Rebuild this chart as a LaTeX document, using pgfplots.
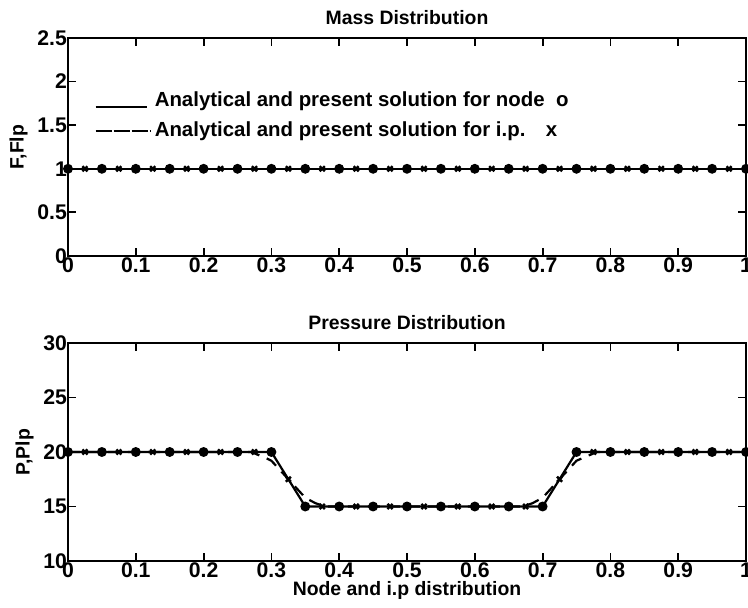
\documentclass[border=0pt]{standalone}
\usepackage{fontspec}
\setmainfont{Liberation Sans}
\usepackage{pgfplots}
\pgfplotsset{compat=1.18}

% nodes and integration points, pressure
\pgfplotstableread{
x p
0 20
0.05 20
0.1 20
0.15 20
0.2 20
0.25 20
0.3 20
0.35 15
0.4 15
0.45 15
0.5 15
0.55 15
0.6 15
0.65 15
0.7 15
0.75 20
0.8 20
0.85 20
0.9 20
0.95 20
1 20
}\nodes
\pgfplotstableread{
x p
0.025 20
0.075 20
0.125 20
0.175 20
0.225 20
0.275 20
0.325 17.5
0.375 15
0.425 15
0.475 15
0.525 15
0.575 15
0.625 15
0.675 15
0.725 17.5
0.775 20
0.825 20
0.875 20
0.925 20
0.975 20
}\ips

\pgfplotsset{
  mstyle/.style={
    scale only axis, width=339pt, height=109pt,
    xmin=0, xmax=1, xtick={0,0.1,...,1},
    tick align=inside, major tick length=4pt,
    axis line style={line width=1pt},
    tick style={line width=0.9pt, black},
    /pgf/number format/assume math mode=true,
    ticklabel style={font=\bfseries\fontsize{10.6}{11}\selectfont},
    xticklabel style={yshift=2.5pt},
    yticklabel style={xshift=3pt},
    title style={font=\bfseries\fontsize{9.7}{10}\selectfont, yshift=-3pt},
    label style={font=\bfseries\fontsize{9.7}{10}\selectfont},
    ylabel style={yshift=-2pt},
  },
  nd/.style={black, line width=1.1pt, mark=*, mark size=1.9pt},
  ip/.style={black, only marks, mark=x, mark size=1.8pt, line width=1.2pt},
}

\begin{document}
\begin{tikzpicture}
\path[use as bounding box] (-34pt,-23.5pt) rectangle (340pt,280.5pt);

\begin{axis}[mstyle, name=top, at={(0,152.5pt)}, anchor=south west,
  ymin=0, ymax=2.5, ytick={0,0.5,...,2.5},
  title={Mass Distribution}, ylabel={F,Flp},
  legend style={draw=none, fill=none, at={(rel axis cs:0.03,0.79)}, anchor=north west,
    font=\bfseries\fontsize{10.2}{11}\selectfont, row sep=2pt},
  legend cell align=left,
]
\addlegendimage{legend image code/.code={\draw[black, line width=1pt] (0cm,-0.1cm) -- (0.9cm,-0.1cm);}}
\addlegendentry{Analytical and present solution for node\ \ o}
\addlegendimage{legend image code/.code={\draw[black, line width=1pt, dash pattern=on 8pt off 1pt] (0cm,0cm) -- (0.95cm,0cm);}}
\addlegendentry{Analytical and present solution for i.p.\quad x}
\addplot[nd, forget plot] coordinates {
(0,1) (0.05,1) (0.1,1) (0.15,1) (0.2,1) (0.25,1) (0.3,1) (0.35,1) (0.4,1) (0.45,1) (0.5,1)
(0.55,1) (0.6,1) (0.65,1) (0.7,1) (0.75,1) (0.8,1) (0.85,1) (0.9,1) (0.95,1) (1,1)};
\addplot[ip, forget plot] coordinates {
(0.025,1) (0.075,1) (0.125,1) (0.175,1) (0.225,1) (0.275,1) (0.325,1) (0.375,1) (0.425,1) (0.475,1)
(0.525,1) (0.575,1) (0.625,1) (0.675,1) (0.725,1) (0.775,1) (0.825,1) (0.875,1) (0.925,1) (0.975,1)};
\end{axis}

\begin{axis}[mstyle, name=bot, at={(0,0)}, anchor=south west,
  ymin=10, ymax=30, ytick={10,15,...,30},
  title={Pressure Distribution}, ylabel={P,Plp},
  xlabel={Node and i.p distribution}, xlabel style={yshift=5pt},
]
\addplot[black, line width=1.1pt, dash pattern=on 6pt off 4pt] coordinates {
(0,20) (0.27,20) (0.29,19.5) (0.3,19.2) (0.325,17.5) (0.35,15.8) (0.365,15.3) (0.38,15)
(0.67,15) (0.685,15.3) (0.7,15.8) (0.725,17.5) (0.75,19.2) (0.765,19.6) (0.78,20) (1,20)};
\addplot[nd] table[x=x, y=p] {\nodes};
\addplot[ip] table[x=x, y=p] {\ips};
\end{axis}
\end{tikzpicture}
\end{document}
